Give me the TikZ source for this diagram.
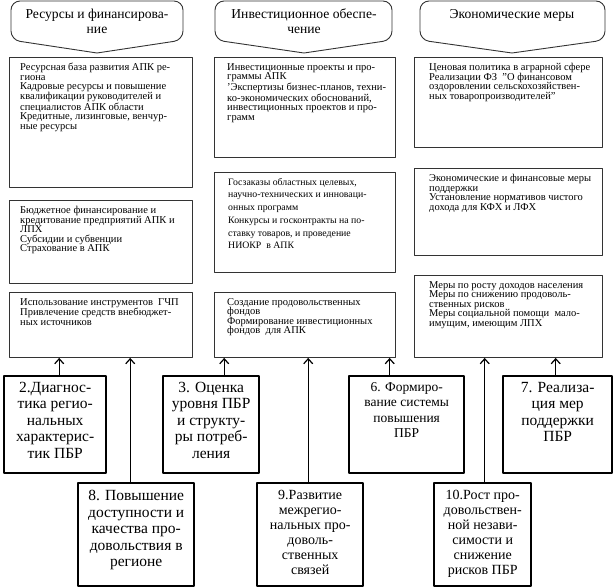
\documentclass[tikz,border=0pt]{standalone}
\usepackage{fontspec}
\setmainfont{Liberation Serif}
\usetikzlibrary{arrows.meta,positioning}
\definecolor{zzzzzz}{rgb}{0.2,0.2,0.2}
\tikzset{
  callout/.style={draw=zzzzzz,line width=0.9pt,rounded corners=9pt},
  headtext/.style={anchor=north,inner sep=0pt,align=center,font=\fontsize{13.6}{15}\selectfont},
  infobox/.style={draw=zzzzzz,line width=0.9pt,anchor=north west,inner sep=0pt},
  infotext/.style={anchor=north west,inner sep=0pt,align=left,font=\fontsize{10.5}{9.6}\selectfont},
  stagebox/.style={draw=black,line width=2.4pt,anchor=north west,inner sep=0pt},
  stagetext/.style={inner sep=0pt,align=center,font=\fontsize{15.5}{16.5}\selectfont},
  flow/.style={->,line width=1.2pt}
}
\begin{document}
\begin{tikzpicture}[line cap=round,line join=round,>={Straight Barb[length=5pt,width=9pt]},x=1pt,y=-1pt]
	\useasboundingbox (0,0) rectangle (613,587);
	\draw[callout] (97,53) coordinate (t1) -- (11,40) -- (11,1) -- (183,1) -- (183,40) -- (t1);
	\draw[callout] (304,53) coordinate (t2) -- (215,40) -- (215,1) -- (392,1) -- (392,40) -- (t2);
	\draw[callout] (512,53) coordinate (t3) -- (420,40) -- (420,1) -- (605,1) -- (605,40) -- (t3);
	\node[headtext] (h1) at (97,9) {Ресурсы и финансирова-\\ние};
	\node[headtext] (h2) at (304,9) {Инвестиционное обеспе-\\чение};
	\node[headtext] (h3) at (512,9) {Экономические меры};
	\node[infobox,minimum width=183,minimum height=130] (r1) at (9,57) {};
	\node[infobox,minimum width=183,minimum height=83] (r2) at (9,200) {};
	\node[infobox,minimum width=183,minimum height=65] (r3) at (9,292) {};
	\node[infobox,minimum width=181,minimum height=100] (r4) at (214,57) {};
	\node[infobox,minimum width=181,minimum height=100] (r5) at (214,172) {};
	\node[infobox,minimum width=181,minimum height=65] (r6) at (214,292) {};
	\node[infobox,minimum width=188,minimum height=90] (r7) at (414,57) {};
	\node[infobox,minimum width=188,minimum height=87] (r8) at (414,168) {};
	\node[infobox,minimum width=188,minimum height=82] (r9) at (414,275) {};
	\node[infotext] (r1t) at ([shift={(11,6)}]r1.north west) {Ресурсная база развития АПК ре-\\гиона\\Кадровые ресурсы и повышение\\квалификации руководителей и\\специалистов АПК области\\Кредитные, лизинговые, венчур-\\ные ресурсы};
	\node[infotext] (r2t) at ([shift={(11,6)}]r2.north west) {Бюджетное финансирование и\\кредитование предприятий АПК и\\ЛПХ\\Субсидии и субвенции\\Страхование в АПК};
	\node[infotext] (r3t) at ([shift={(11,6)}]r3.north west) {Использование инструментов\ \ ГЧП\\Привлечение средств внебюджет-\\ных источников};
	\node[infotext] (r4t) at ([shift={(13,6)}]r4.north west) {Инвестиционные проекты и про-\\граммы АПК\\'Экспертизы бизнес-планов, техни-\\ко-экономических обоснований,\\инвестиционных проектов и про-\\грамм};
	\node[infotext,font=\fontsize{9.8}{12.7}\selectfont] (r5t) at ([shift={(14,6)}]r5.north west) {Госзаказы областных целевых,\\научно-технических и инноваци-\\онных программ\\Конкурсы и госконтракты на по-\\ставку товаров, и проведение\\НИОКР\ \ в АПК};
	\node[infotext] (r6t) at ([shift={(13,6)}]r6.north west) {Создание продовольственных\\фондов\\Формирование инвестиционных\\фондов\ \ для АПК};
	\node[infotext] (r7t) at ([shift={(15,6)}]r7.north west) {Ценовая политика в аграрной сфере\\Реализации ФЗ\ \ "О финансовом\\оздоровлении сельскохозяйствен-\\ных товаропроизводителей"};
	\node[infotext] (r8t) at ([shift={(15,6)}]r8.north west) {Экономические и финансовые меры\\поддержки\\Установление нормативов чистого\\дохода для КФХ и ЛФХ};
	\node[infotext] (r9t) at ([shift={(15,6)}]r9.north west) {Меры по росту доходов населения\\Меры по снижению продоволь-\\ственных рисков\\Меры социальной помощи\ \ мало-\\имущим, имеющим ЛПХ};
	\node[stagebox,minimum width=102,minimum height=97] (s2) at (3,375) {};
	\node[stagebox,minimum width=96,minimum height=97] (s3) at (162,375) {};
	\node[stagebox,minimum width=115,minimum height=97] (s6) at (348,375) {};
	\node[stagebox,minimum width=109,minimum height=97] (s7) at (502,375) {};
	\node[stagebox,minimum width=116,minimum height=103] (s8) at (77,482) {};
	\node[stagebox,minimum width=106,minimum height=103] (s9) at (256,482) {};
	\node[stagebox,minimum width=97,minimum height=103] (s10) at (433,482) {};
	\node[stagetext,below=7pt of s2.north] (s2t) {2.Диагнос-\\тика регио-\\нальных\\характерис-\\тик ПБР};
	\node[stagetext,below=7pt of s3.north] (s3t) {3. Оценка\\уровня ПБР\\и структу-\\ры потреб-\\ления};
	\node[stagetext,below=7pt of s6.north,font=\fontsize{13.5}{15.5}\selectfont] (s6t) {6. Формиро-\\вание системы\\повышения\\ПБР};
	\node[stagetext,below=7pt of s7.north] (s7t) {7. Реализа-\\ция мер\\поддержки\\ПБР};
	\node[stagetext,below=8pt of s8.north] (s8t) {8. Повышение\\доступности и\\качества про-\\довольствия в\\регионе};
	\node[stagetext,below=8pt of s9.north,font=\fontsize{14}{15}\selectfont] (s9t) {9.Развитие\\межрегио-\\нальных про-\\доволь-\\ственных\\связей};
	\node[stagetext,below=8pt of s10.north,font=\fontsize{14}{15}\selectfont] (s10t) {10.Рост про-\\довольствен-\\ной незави-\\симости и\\снижение\\рисков ПБР};
	\coordinate (a2) at ([xshift=4]s2.north);
	\coordinate (a3) at ([xshift=13]s3.north);
	\coordinate (a6) at ([xshift=-17]s6.north);
	\coordinate (a7) at ([xshift=-2]s7.north);
	\coordinate (a8) at ([xshift=-6]s8.north);
	\coordinate (a9) at ([xshift=-2]s9.north);
	\coordinate (a10) at ([xshift=2]s10.north);
	\draw[flow] (a2) -- (a2 |- r3.south);
	\draw[flow] (a8) -- (a8 |- r3.south);
	\draw[flow] (a3) -- (a3 |- r6.south);
	\draw[flow] (a9) -- (a9 |- r6.south);
	\draw[flow] (a6) -- (a6 |- r6.south);
	\draw[flow] (a10) -- (a10 |- r9.south);
	\draw[flow] (a7) -- (a7 |- r9.south);
\end{tikzpicture}
\end{document}
